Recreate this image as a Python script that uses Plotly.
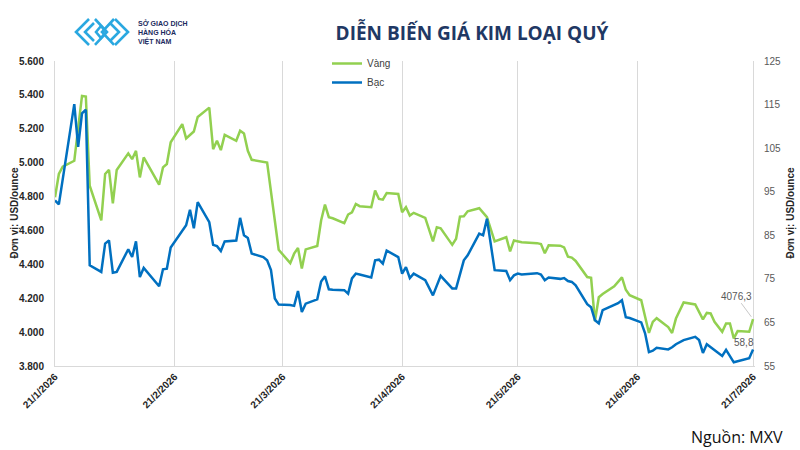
import plotly.graph_objects as go

# ---------------- data ----------------
gold_dates = [
    "2026-01-21", "2026-01-22", "2026-01-23", "2026-01-26", "2026-01-28", "2026-01-29", "2026-01-30",
    "2026-02-02", "2026-02-03", "2026-02-04", "2026-02-05", "2026-02-06", "2026-02-09", "2026-02-10",
    "2026-02-11", "2026-02-12", "2026-02-13", "2026-02-17", "2026-02-18", "2026-02-19", "2026-02-20",
    "2026-02-23", "2026-02-24", "2026-02-26", "2026-02-27", "2026-03-02", "2026-03-03", "2026-03-04",
    "2026-03-05", "2026-03-06", "2026-03-09", "2026-03-10", "2026-03-11", "2026-03-12", "2026-03-13",
    "2026-03-17", "2026-03-20", "2026-03-23", "2026-03-24", "2026-03-25", "2026-03-26", "2026-03-27",
    "2026-03-30", "2026-03-31", "2026-04-01", "2026-04-02", "2026-04-03", "2026-04-06", "2026-04-07",
    "2026-04-08", "2026-04-09", "2026-04-10", "2026-04-13", "2026-04-14", "2026-04-15", "2026-04-16",
    "2026-04-17", "2026-04-20", "2026-04-21", "2026-04-22", "2026-04-23", "2026-04-24", "2026-04-27",
    "2026-04-29", "2026-04-30", "2026-05-01", "2026-05-04", "2026-05-05", "2026-05-06", "2026-05-07",
    "2026-05-08", "2026-05-11", "2026-05-13", "2026-05-15", "2026-05-18", "2026-05-19", "2026-05-20",
    "2026-05-21", "2026-05-22", "2026-05-26", "2026-05-27", "2026-05-28", "2026-05-29", "2026-06-01",
    "2026-06-02", "2026-06-03", "2026-06-04", "2026-06-05", "2026-06-08", "2026-06-09", "2026-06-10",
    "2026-06-11", "2026-06-12", "2026-06-15", "2026-06-17", "2026-06-18", "2026-06-19", "2026-06-22",
    "2026-06-24", "2026-06-25", "2026-06-26", "2026-06-29", "2026-06-30", "2026-07-01", "2026-07-02",
    "2026-07-03", "2026-07-06", "2026-07-07", "2026-07-08", "2026-07-09", "2026-07-10", "2026-07-11",
    "2026-07-13", "2026-07-14", "2026-07-15", "2026-07-16", "2026-07-17", "2026-07-20", "2026-07-21",
]
gold_values = [
    4796, 4933, 4976, 5011, 5394, 5390, 4864,
    4659, 4933, 4958, 4760, 4957, 5055, 5021,
    5070, 4913, 5031, 4870, 4972, 4992, 5120,
    5227, 5143, 5184, 5270, 5325, 5080, 5129,
    5074, 5164, 5129, 5188, 5172, 5070, 5017,
    5001, 4486, 4407, 4463, 4496, 4375, 4488,
    4508, 4659, 4753, 4678, 4672, 4643, 4694,
    4707, 4756, 4743, 4737, 4835, 4786, 4782,
    4821, 4815, 4707, 4737, 4688, 4704, 4674,
    4535, 4619, 4613, 4515, 4551, 4682, 4684,
    4713, 4731, 4678, 4535, 4560, 4476, 4541,
    4537, 4530, 4525, 4520, 4465, 4512, 4510,
    4500, 4445, 4440, 4420, 4325, 4320, 4065,
    4206, 4225, 4270, 4323, 4250, 4218, 4188,
    3995, 4060, 4082, 4030, 3995, 4080, 4129,
    4175, 4163, 4119, 4075, 4113, 4110, 4061,
    4002, 4051, 4051, 3963, 4006, 4002, 4076.3,
]

silver_dates = [
    "2026-01-21", "2026-01-22", "2026-01-26", "2026-01-27", "2026-01-28", "2026-01-29", "2026-01-30",
    "2026-02-02", "2026-02-03", "2026-02-04", "2026-02-05", "2026-02-06", "2026-02-09", "2026-02-10",
    "2026-02-11", "2026-02-12", "2026-02-13", "2026-02-17", "2026-02-18", "2026-02-19", "2026-02-20",
    "2026-02-24", "2026-02-25", "2026-02-26", "2026-02-27", "2026-03-02", "2026-03-03", "2026-03-04",
    "2026-03-05", "2026-03-06", "2026-03-09", "2026-03-10", "2026-03-11", "2026-03-12", "2026-03-13",
    "2026-03-16", "2026-03-17", "2026-03-18", "2026-03-19", "2026-03-20", "2026-03-23", "2026-03-24",
    "2026-03-25", "2026-03-26", "2026-03-27", "2026-03-30", "2026-03-31", "2026-04-01", "2026-04-02",
    "2026-04-03", "2026-04-06", "2026-04-07", "2026-04-08", "2026-04-09", "2026-04-10", "2026-04-13",
    "2026-04-14", "2026-04-15", "2026-04-16", "2026-04-17", "2026-04-20", "2026-04-21", "2026-04-22",
    "2026-04-23", "2026-04-24", "2026-04-27", "2026-04-29", "2026-05-01", "2026-05-04", "2026-05-05",
    "2026-05-07", "2026-05-08", "2026-05-11", "2026-05-12", "2026-05-13", "2026-05-15", "2026-05-18",
    "2026-05-19", "2026-05-20", "2026-05-21", "2026-05-22", "2026-05-26", "2026-05-27", "2026-05-28",
    "2026-05-29", "2026-06-01", "2026-06-02", "2026-06-03", "2026-06-04", "2026-06-05", "2026-06-08",
    "2026-06-09", "2026-06-10", "2026-06-11", "2026-06-12", "2026-06-15", "2026-06-16", "2026-06-17",
    "2026-06-18", "2026-06-19", "2026-06-22", "2026-06-23", "2026-06-24", "2026-06-25", "2026-06-26",
    "2026-06-29", "2026-06-30", "2026-07-01", "2026-07-02", "2026-07-03", "2026-07-06", "2026-07-07",
    "2026-07-08", "2026-07-09", "2026-07-13", "2026-07-14", "2026-07-16", "2026-07-20", "2026-07-21",
]
silver_values = [
    93.0, 92.1, 115.1, 105.3, 113.0, 113.8, 78.1,
    76.6, 83.1, 83.8, 76.4, 76.6, 81.8, 80.0,
    83.6, 75.4, 77.5, 73.3, 77.2, 77.35, 82.2,
    87.3, 90.85, 86.6, 92.6, 88.0, 82.8, 82.5,
    81.4, 83.6, 83.8, 89.0, 85.0, 84.4, 80.8,
    80.0, 79.25, 77.0, 70.5, 69.1, 69.0, 68.8,
    72.2, 67.4, 69.3, 70.3, 74.4, 75.6, 72.6,
    72.5, 72.4, 71.6, 75.1, 76.2, 76.0, 75.3,
    79.25, 79.4, 78.5, 81.5, 80.0, 76.2, 77.7,
    75.2, 76.2, 74.7, 71.2, 75.7, 72.8, 72.8,
    79.25, 80.4, 85.4, 85.0, 88.8, 77.0, 76.8,
    74.7, 75.8, 76.2, 76.0, 76.3, 76.0, 74.7,
    75.3, 75.0, 75.2, 74.5, 74.3, 73.5, 69.2,
    68.5, 65.5, 64.8, 67.8, 69.0, 69.4, 70.1,
    66.2, 66.0, 65.0, 62.5, 58.2, 58.5, 59.2,
    58.8, 59.3, 60.0, 60.56, 60.95, 61.7, 60.95,
    58.0, 60.0, 57.3, 58.7, 55.85, 56.8, 58.8,
]

tick_dates = ["2026-01-21", "2026-02-21", "2026-03-21", "2026-04-21",
              "2026-05-21", "2026-06-21", "2026-07-21"]
tick_labels = ["21/1/2026", "21/2/2026", "21/3/2026", "21/4/2026",
               "21/5/2026", "21/6/2026", "21/7/2026"]
left_ticks = [3800, 4000, 4200, 4400, 4600, 4800, 5000, 5200, 5400, 5600]
left_tick_labels = ["3.800", "4.000", "4.200", "4.400", "4.600",
                    "4.800", "5.000", "5.200", "5.400", "5.600"]
right_ticks = [55, 65, 75, 85, 95, 105, 115, 125]
logo_lines = ["SỞ GIAO DỊCH", "HÀNG HÓA", "VIỆT NAM"]

# ---------------- layout helpers ----------------
W, H = 800, 450
ML, MR, MT, MB = 55, 45, 61, 84


def px(x):
    return (x - ML) / (W - ML - MR)


def py(y):
    return (H - MB - y) / (H - MT - MB)


def path(points, close=False):
    s = "M " + " L ".join(f"{px(x):.4f},{py(y):.4f}" for x, y in points)
    return s + (" Z" if close else "")


GREEN = "#92D050"
BLUE = "#0070C0"
FONT = "Liberation Sans, Arial, sans-serif"

fig = go.Figure()
fig.add_trace(go.Scatter(x=gold_dates, y=gold_values, name="Vàng", mode="lines",
                         line=dict(color=GREEN, width=2.5), yaxis="y"))
fig.add_trace(go.Scatter(x=silver_dates, y=silver_values, name="Bạc", mode="lines",
                         line=dict(color=BLUE, width=2.5), yaxis="y2"))


def fmt(v):
    return f"{v:.1f}".replace(".", ",")


annotations = [
    dict(x=gold_dates[-1], y=gold_values[-1], xref="x", yref="y", text=fmt(gold_values[-1]),
         showarrow=True, arrowhead=0, arrowwidth=1, arrowcolor="#c8c8c8", ax=-17, ay=-23,
         standoff=3, font=dict(size=10, color="#595959", family=FONT)),
    dict(x=silver_dates[-1], y=silver_values[-1], xref="x", yref="y2", text=fmt(silver_values[-1]),
         showarrow=False, xshift=-9, yshift=7, font=dict(size=10, color="#595959", family=FONT)),
    dict(x=px(14), y=0.5, xref="paper", yref="paper", text="Đơn vị: USD/ounce", textangle=-90,
         xanchor="center", yanchor="middle", showarrow=False,
         font=dict(size=10, color="#262626", family=FONT, weight="bold")),
    dict(x=px(790), y=0.5, xref="paper", yref="paper", text="Đơn vị: USD/ounce", textangle=-90,
         xanchor="center", yanchor="middle", showarrow=False,
         font=dict(size=10, color="#262626", family=FONT, weight="bold")),
    dict(x=px(785), y=py(437), xref="paper", yref="paper", text="Nguồn: MXV", xanchor="right",
         yanchor="middle", showarrow=False, font=dict(size=16, color="#111111", family="Open Sans")),
    dict(x=px(136), y=py(32), xref="paper", yref="paper", text="<br>".join(logo_lines),
         xanchor="left", yanchor="middle", align="left", showarrow=False,
         font=dict(size=7, color="#1B2A5E", family=FONT, weight="bold")),
]

LOGO = "#2AA8E0"
logo_paths = [
    [(89, 19), (76, 32), (89, 45)],
    [(94, 23), (85, 32), (94, 41)],
    [(95, 19), (107, 32), (95, 45)],
    [(101, 26), (96, 32), (101, 38), (106, 32), (101, 26)],
    [(114, 19), (102, 32), (114, 45)],
    [(115, 19), (128, 32), (115, 45)],
    [(110, 23), (119, 32), (110, 41)],
]
shapes = [dict(type="path", xref="paper", yref="paper", path=path(p),
               line=dict(color=LOGO, width=2.6)) for p in logo_paths]

fig.update_layout(
    width=W, height=H,
    margin=dict(l=ML, r=MR, t=MT, b=MB),
    paper_bgcolor="white", plot_bgcolor="white",
    separators=",.",
    title=dict(text="<b>DIỄN BIẾN GIÁ KIM LOẠI QUÝ</b>", x=472 / W, xanchor="center",
               xref="container", y=1 - 33 / H, yanchor="middle", yref="container",
               font=dict(size=19, color="#1F3864", family="Open Sans")),
    showlegend=True,
    legend=dict(x=px(327), y=py(49), xanchor="left", yanchor="top", bgcolor="rgba(0,0,0,0)",
                font=dict(size=10, color="#404040", family=FONT), itemwidth=30,
                tracegroupgap=0),
    xaxis=dict(type="date", range=["2026-01-21", "2026-07-21 12:00"],
               tickmode="array", tickvals=tick_dates, ticktext=tick_labels, tickangle=-45,
               showgrid=True, gridcolor="#d9d9d9", gridwidth=1,
               showline=True, linecolor="#d9d9d9", zeroline=False, ticks="",
               tickfont=dict(size=10, color="#262626", family=FONT, weight="bold")),
    yaxis=dict(range=[3800, 5600], tickmode="array", tickvals=left_ticks, ticktext=left_tick_labels,
               showgrid=False, showline=True, linecolor="#d9d9d9", zeroline=False, ticks="",
               ticklabelstandoff=8,
               tickfont=dict(size=10, color="#262626", family=FONT, weight="bold")),
    yaxis2=dict(range=[55, 125], overlaying="y", side="right", tickmode="array",
                tickvals=right_ticks, showgrid=False, showline=False, zeroline=False, ticks="",
                ticklabelstandoff=8,
                tickfont=dict(size=10, color="#595959", family=FONT)),
    annotations=annotations,
    shapes=shapes,
)

fig.write_html("out.html")
